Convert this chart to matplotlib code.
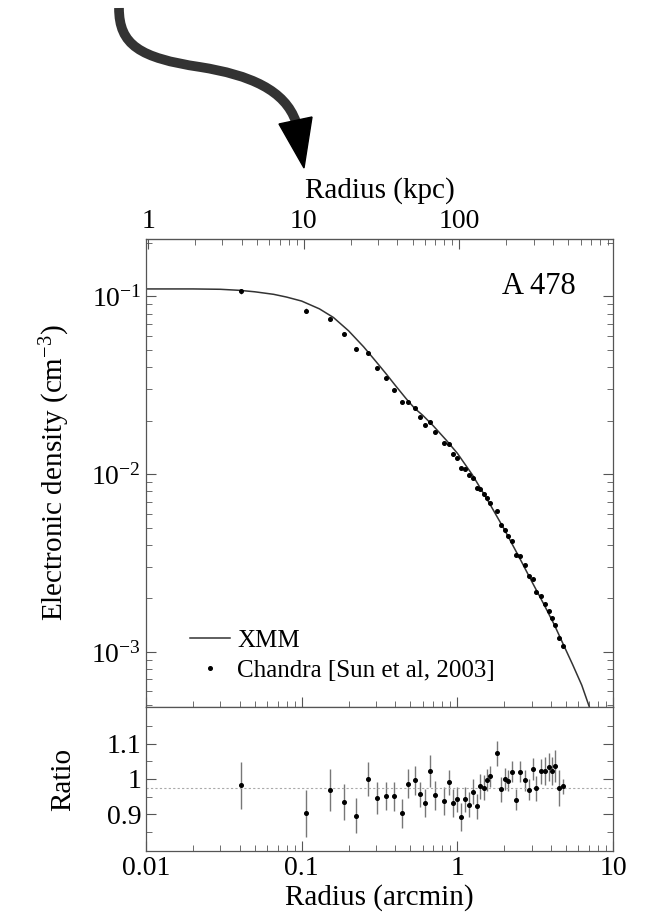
import numpy as np
import matplotlib
matplotlib.use("Agg")
import matplotlib.pyplot as plt
from matplotlib.path import Path
from matplotlib.patches import PathPatch, Polygon
from matplotlib.ticker import FixedLocator, FuncFormatter

plt.rcParams["font.family"] = ["Liberation Serif", "DejaVu Serif"]
plt.rcParams["mathtext.fontset"] = "custom"
plt.rcParams["mathtext.rm"] = "Liberation Serif"
plt.rcParams["mathtext.it"] = "Liberation Serif:italic"

# === data ===

# XMM model curve (arcmin, cm^-3)
xmm_r = [0.01, 0.02, 0.03, 0.04, 0.05, 0.066, 0.08, 0.1, 0.13, 0.16, 0.2, 0.25,
         0.3, 0.35, 0.4, 0.47, 0.53, 0.6, 0.7, 0.85, 1.0, 1.25, 1.6, 2.0, 2.5,
         3.0, 3.6, 4.2, 4.8, 5.5, 6.3, 7.05]
xmm_n = [0.110, 0.110, 0.1095, 0.108, 0.106, 0.1026, 0.099, 0.094, 0.085, 0.076,
         0.064, 0.052, 0.043, 0.0365, 0.0315, 0.0265, 0.0235, 0.0214, 0.0187,
         0.0155, 0.0131, 0.0099, 0.0069, 0.0049, 0.0034, 0.0025, 0.00185,
         0.00142, 0.00110, 0.00085, 0.00065, 0.00049]

# Chandra points [Sun et al, 2003]
ch_r = [0.041, 0.106, 0.152, 0.187, 0.225, 0.266, 0.303, 0.347, 0.394, 0.44,
        0.485, 0.533, 0.579, 0.624, 0.672, 0.718, 0.817, 0.883, 0.942, 1.0,
        1.06, 1.125, 1.186, 1.26, 1.33, 1.40, 1.475, 1.55, 1.63, 1.80, 1.90,
        2.01, 2.12, 2.24, 2.39, 2.53, 2.71, 2.88, 3.05, 3.22, 3.45, 3.66,
        3.87, 4.08, 4.27, 4.53, 4.80]
ch_n = [0.107, 0.083, 0.075, 0.0617, 0.0506, 0.0479, 0.0395, 0.0345, 0.0299,
        0.0256, 0.0253, 0.0234, 0.0210, 0.0190, 0.0197, 0.0173, 0.0149, 0.0147,
        0.0130, 0.0123, 0.0108, 0.0107, 0.00986, 0.00946, 0.00838, 0.00826,
        0.00774, 0.00730, 0.00684, 0.00619, 0.00517, 0.00488, 0.00448, 0.00420,
        0.00351, 0.00346, 0.00307, 0.00267, 0.00256, 0.00218, 0.00206, 0.00187,
        0.00170, 0.00155, 0.00142, 0.00120, 0.00108]

# ratio panel
ratio = [0.982, 0.903, 0.968, 0.935, 0.897, 1.0, 0.947, 0.952, 0.951, 0.903,
         0.987, 0.996, 0.957, 0.932, 1.022, 0.954, 0.938, 0.991, 0.933, 0.943,
         0.893, 0.943, 0.927, 0.964, 0.923, 0.979, 0.976, 0.997, 1.008, 1.072,
         0.971, 1.0, 0.995, 1.021, 0.942, 1.021, 0.996, 0.97, 1.028, 0.974,
         1.022, 1.022, 1.033, 1.023, 1.036, 0.974, 0.979]
ratio_err = [0.066, 0.066, 0.059, 0.05, 0.05, 0.048, 0.045, 0.04, 0.04, 0.04,
             0.04, 0.04, 0.035, 0.04, 0.045, 0.04, 0.04, 0.035, 0.04, 0.035,
             0.04, 0.035, 0.035, 0.035, 0.035, 0.035, 0.035, 0.03, 0.03, 0.035,
             0.035, 0.03, 0.03, 0.03, 0.03, 0.03, 0.03, 0.03, 0.03, 0.035,
             0.035, 0.04, 0.04, 0.04, 0.045, 0.05, 0.02]
ratio_ref = 0.975

kpc_per_arcmin = 97.0

x_ticks = [0.01, 0.1, 1, 10]
x_ticklabels = ["0.01", "0.1", "1", "10"]
kpc_ticks = [1, 10, 100, 1000]
kpc_ticklabels = ["1", "10", "100", "1000"]
ratio_ticks = [0.9, 1.0, 1.1]
ratio_ticklabels = ["0.9", "1", "1.1"]

W, H = 647, 915


def px(x, y):
    return x / W, 1 - y / H


def pow_label(v, pos):
    e = int(round(np.log10(v)))
    return "10$^{\\mathrm{-%d}}$" % abs(e) if e < 0 else "10$^{%d}$" % e


fig = plt.figure(figsize=(6.47, 9.15), dpi=100)
ax = fig.add_axes([146 / W, 1 - 707 / H, 467 / W, 468 / H])
axr = fig.add_axes([146 / W, 1 - 851 / H, 467 / W, 144 / H], sharex=ax)

spine_col = "#555555"
for a in (ax, axr):
    for s in a.spines.values():
        s.set_color(spine_col)
        s.set_linewidth(0.9)
    a.tick_params(which="both", direction="in", color=spine_col, labelsize=20)
    a.tick_params(which="major", length=7)
    a.tick_params(which="minor", length=4)

ch_n_arr = np.array(ch_n)
ch_err = ch_n_arr * np.array(ratio_err) * 0.5

ax.plot(xmm_r, xmm_n, color="#333333", lw=1.1, label="XMM")
ax.errorbar(ch_r, ch_n, yerr=ch_err, fmt="o", ms=2.6, color="black",
            ecolor="#888888", elinewidth=0.8, capsize=0)
ax.plot([], [], "o", ms=2.6, color="black", label="Chandra [Sun et al, 2003]")
ax.set_xscale("log")
ax.set_yscale("log")
ax.set_xlim(0.01, 10)
ax.set_ylim(4.9e-4, 0.21)
ax.yaxis.set_major_formatter(FuncFormatter(pow_label))
ax.tick_params(axis="x", which="both", labelbottom=False, top=False)
ax.tick_params(axis="y", which="both", right=True)
ax.set_ylabel("Electronic density (cm$^{\\mathrm{-3}}$)", fontsize=21, labelpad=14)
ax.text(0.92, 0.93, "A 478", transform=ax.transAxes, fontsize=22,
        ha="right", va="top")

leg = ax.legend(loc="lower left", bbox_to_anchor=(0.04, 0.0), frameon=False,
                fontsize=18, handlelength=1.6, handletextpad=0.3,
                labelspacing=0.3, borderaxespad=0.6)

top = ax.secondary_xaxis("top", functions=(lambda x: x * kpc_per_arcmin,
                                           lambda x: x / kpc_per_arcmin))
top.set_xticks(kpc_ticks)
top.set_xticklabels(kpc_ticklabels)
top.tick_params(which="both", direction="in", color=spine_col, labelsize=20)
top.tick_params(which="major", length=7)
top.tick_params(which="minor", length=4)
top.spines["top"].set_color(spine_col)
top.set_xlabel("Radius (kpc)", fontsize=21, labelpad=8)

axr.errorbar(ch_r, ratio, yerr=ratio_err, fmt="o", ms=2.6, color="black",
             ecolor="#777777", elinewidth=1.0, capsize=0)
axr.axhline(ratio_ref, color="#aaaaaa", lw=0.8, ls=(0, (2, 2)))
axr.set_ylim(0.797, 1.203)
axr.yaxis.set_major_locator(FixedLocator(ratio_ticks))
axr.set_yticklabels(ratio_ticklabels)
axr.yaxis.set_minor_locator(FixedLocator([0.85, 0.95, 1.05, 1.15]))
axr.tick_params(axis="y", which="both", right=True)
axr.tick_params(axis="x", which="both", top=False)
axr.set_xticks(x_ticks)
axr.set_xticklabels(x_ticklabels)
axr.set_xlim(0.01, 10)
axr.set_xlabel("Radius (arcmin)", fontsize=21, labelpad=2)
axr.set_ylabel("Ratio", fontsize=21, labelpad=22)

# curved arrow pointing to the top axis title
verts = [px(119, 8), px(119, 45), px(140, 58), px(200, 67),
         px(250, 75), px(285, 90), px(296, 122)]
codes = [Path.MOVETO, Path.CURVE4, Path.CURVE4, Path.CURVE4,
         Path.CURVE4, Path.CURVE4, Path.CURVE4]
fig.add_artist(PathPatch(Path(verts, codes), transform=fig.transFigure,
                         facecolor="none", edgecolor="#333333", lw=7,
                         capstyle="butt"))
fig.add_artist(Polygon([px(279, 124), px(312, 117), px(304, 168)],
                       closed=True, transform=fig.transFigure,
                       facecolor="black", edgecolor="black"))

fig.savefig("out.png", dpi=100)
